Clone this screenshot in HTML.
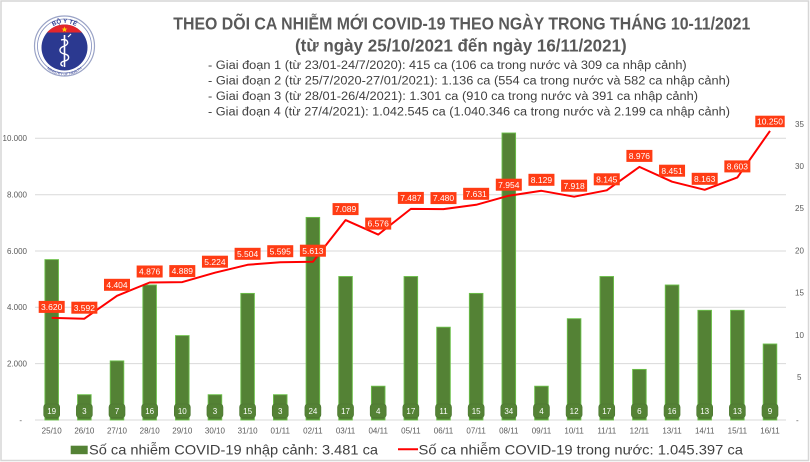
<!DOCTYPE html>
<html><head><meta charset="utf-8"><style>
html,body{margin:0;padding:0;background:#fff;}
svg{display:block;font-family:"Liberation Sans",sans-serif;}
</style></head><body>
<svg width="810" height="462" viewBox="0 0 810 462" xmlns="http://www.w3.org/2000/svg">
<rect x="0" y="0" width="810" height="462" fill="#fff"/>
<rect x="1" y="1" width="807.5" height="459.5" fill="none" stroke="#d6d6d6" stroke-width="1.5"/>

<!-- logo -->
<g>
<circle cx="64.5" cy="46" r="30" fill="#fff" stroke="#9aa3c6" stroke-width="1.2"/>
<circle cx="64.5" cy="46" r="27" fill="none" stroke="#7f8bbd" stroke-width="0.8"/>
<defs><clipPath id="dc"><circle cx="64.5" cy="47.5" r="23"/></clipPath>
<path id="arcT" d="M44,38 A21.5,21.5 0 0 1 85,38"/>
<path id="arcB" d="M40,58 A26,26 0 0 0 89,58"/></defs>
<g clip-path="url(#dc)">
<rect x="40" y="20" width="50" height="55" fill="#2b3990"/>
<rect x="40" y="20" width="50" height="12.5" fill="#e3262b"/>
</g>
<polygon points="64.5,26.5 65.3,28.6 67.4,28.6 65.7,29.9 66.3,32 64.5,30.7 62.7,32 63.3,29.9 61.6,28.6 63.7,28.6" fill="#ffd400"/>
<line x1="64.5" y1="35" x2="64.5" y2="67" stroke="#fff" stroke-width="1.6"/>
<path d="M61,40 C68,38 70,44 64.5,46 C58,48 59,53 64.5,54 C70,55 70,60 64.5,61 C60,62 60,65 63,66" fill="none" stroke="#fff" stroke-width="1.4"/>
<path d="M68,37 l3,-3" stroke="#fff" stroke-width="1.2"/>
<text font-size="6" fill="#2b3990" font-weight="bold"><textPath href="#arcT" startOffset="50%" text-anchor="middle">BỘ Y TẾ</textPath></text>
<text font-size="3.6" fill="#2b3990"><textPath href="#arcB" startOffset="50%" text-anchor="middle">MINISTRY OF HEALTH</textPath></text>
</g>

<!-- titles -->
<text x="173.3" y="29.3" font-size="17.5" font-weight="bold" fill="#595959" textLength="577" lengthAdjust="spacingAndGlyphs">THEO DÕI CA NHIỄM MỚI COVID-19 THEO NGÀY TRONG THÁNG 10-11/2021</text>
<text x="295" y="51.5" font-size="17.5" font-weight="bold" fill="#595959" textLength="331.7" lengthAdjust="spacingAndGlyphs">(từ ngày 25/10/2021 đến ngày 16/11/2021)</text>
<g font-size="11.5" fill="#404040">
<text x="208" y="69" textLength="478.7" lengthAdjust="spacingAndGlyphs">- Giai đoạn 1 (từ 23/01-24/7/2020): 415 ca (106 ca trong nước và 309 ca nhập cảnh)</text>
<text x="208" y="84.5" textLength="522" lengthAdjust="spacingAndGlyphs">- Giai đoạn 2 (từ 25/7/2020-27/01/2021): 1.136 ca (554 ca trong nước và 582 ca nhập cảnh)</text>
<text x="208" y="100" textLength="490" lengthAdjust="spacingAndGlyphs">- Giai đoạn 3 (từ 28/01-26/4/2021): 1.301 ca (910 ca trong nước và 391 ca nhập cảnh)</text>
<text x="208" y="115.7" textLength="522" lengthAdjust="spacingAndGlyphs">- Giai đoạn 4 (từ 27/4/2021): 1.042.545 ca (1.040.346 ca trong nước và 2.199 ca nhập cảnh)</text>
</g>

<!-- gridlines -->
<g stroke="#d9d9d9" stroke-width="1">
<line x1="35" y1="138.3" x2="786" y2="138.3"/>
<line x1="35" y1="194.7" x2="786" y2="194.7"/>
<line x1="35" y1="251" x2="786" y2="251"/>
<line x1="35" y1="307.3" x2="786" y2="307.3"/>
<line x1="35" y1="363.6" x2="786" y2="363.6"/>
<line x1="35" y1="420" x2="786" y2="420"/>
</g>

<!-- left axis -->
<g font-size="8" fill="#595959" text-anchor="end">
<text x="27" y="141.2">10.000</text>
<text x="27" y="197.6">8.000</text>
<text x="27" y="253.9">6.000</text>
<text x="27" y="310.2">4.000</text>
<text x="27" y="366.5">2.000</text>
<text x="22" y="422.8">-</text>
</g>
<!-- right axis -->
<g font-size="8" fill="#595959">
<text x="795" y="126.8">35</text>
<text x="795" y="169">30</text>
<text x="795" y="211.2">25</text>
<text x="795" y="253.4">20</text>
<text x="795" y="295.6">15</text>
<text x="795" y="337.8">10</text>
<text x="797" y="380">5</text>
<text x="796" y="422.8">-</text>
</g>

<!-- bars -->
<g fill="#548235" stroke="#6cc04a" stroke-width="0.9">
<rect x="44.9" y="259.6" width="13.6" height="160.4"/>
<rect x="77.55" y="394.7" width="13.6" height="25.3"/>
<rect x="110.2" y="360.9" width="13.6" height="59.1"/>
<rect x="142.85" y="285" width="13.6" height="135"/>
<rect x="175.5" y="335.6" width="13.6" height="84.4"/>
<rect x="208.15" y="394.7" width="13.6" height="25.3"/>
<rect x="240.8" y="293.4" width="13.6" height="126.6"/>
<rect x="273.45" y="394.7" width="13.6" height="25.3"/>
<rect x="306.1" y="217.4" width="13.6" height="202.6"/>
<rect x="338.75" y="276.5" width="13.6" height="143.5"/>
<rect x="371.4" y="386.2" width="13.6" height="33.8"/>
<rect x="404.05" y="276.5" width="13.6" height="143.5"/>
<rect x="436.7" y="327.2" width="13.6" height="92.8"/>
<rect x="469.35" y="293.4" width="13.6" height="126.6"/>
<rect x="502" y="133" width="13.6" height="287"/>
<rect x="534.65" y="386.2" width="13.6" height="33.8"/>
<rect x="567.3" y="318.7" width="13.6" height="101.3"/>
<rect x="599.95" y="276.5" width="13.6" height="143.5"/>
<rect x="632.6" y="369.4" width="13.6" height="50.6"/>
<rect x="665.25" y="285" width="13.6" height="135"/>
<rect x="697.9" y="310.3" width="13.6" height="109.7"/>
<rect x="730.55" y="310.3" width="13.6" height="109.7"/>
<rect x="763.2" y="344" width="13.6" height="76"/>
</g>

<!-- bar labels -->
<g fill="#548235" stroke="#4a7530" stroke-width="0.6">
<rect x="43.7" y="404" width="16" height="13.7" rx="3"/>
<rect x="76.35" y="404" width="16" height="13.7" rx="3"/>
<rect x="109" y="404" width="16" height="13.7" rx="3"/>
<rect x="141.65" y="404" width="16" height="13.7" rx="3"/>
<rect x="174.3" y="404" width="16" height="13.7" rx="3"/>
<rect x="206.95" y="404" width="16" height="13.7" rx="3"/>
<rect x="239.6" y="404" width="16" height="13.7" rx="3"/>
<rect x="272.25" y="404" width="16" height="13.7" rx="3"/>
<rect x="304.9" y="404" width="16" height="13.7" rx="3"/>
<rect x="337.55" y="404" width="16" height="13.7" rx="3"/>
<rect x="370.2" y="404" width="16" height="13.7" rx="3"/>
<rect x="402.85" y="404" width="16" height="13.7" rx="3"/>
<rect x="435.5" y="404" width="16" height="13.7" rx="3"/>
<rect x="468.15" y="404" width="16" height="13.7" rx="3"/>
<rect x="500.8" y="404" width="16" height="13.7" rx="3"/>
<rect x="533.45" y="404" width="16" height="13.7" rx="3"/>
<rect x="566.1" y="404" width="16" height="13.7" rx="3"/>
<rect x="598.75" y="404" width="16" height="13.7" rx="3"/>
<rect x="631.4" y="404" width="16" height="13.7" rx="3"/>
<rect x="664.05" y="404" width="16" height="13.7" rx="3"/>
<rect x="696.7" y="404" width="16" height="13.7" rx="3"/>
<rect x="729.35" y="404" width="16" height="13.7" rx="3"/>
<rect x="762" y="404" width="16" height="13.7" rx="3"/>
</g>
<g font-size="8" fill="#fff" text-anchor="middle">
<text x="51.7" y="413.8">19</text>
<text x="84.35" y="413.8">3</text>
<text x="117" y="413.8">7</text>
<text x="149.65" y="413.8">16</text>
<text x="182.3" y="413.8">10</text>
<text x="214.95" y="413.8">3</text>
<text x="247.6" y="413.8">15</text>
<text x="280.25" y="413.8">3</text>
<text x="312.9" y="413.8">24</text>
<text x="345.55" y="413.8">17</text>
<text x="378.2" y="413.8">4</text>
<text x="410.85" y="413.8">17</text>
<text x="443.5" y="413.8">11</text>
<text x="476.15" y="413.8">15</text>
<text x="508.8" y="413.8">34</text>
<text x="541.45" y="413.8">4</text>
<text x="574.1" y="413.8">12</text>
<text x="606.75" y="413.8">17</text>
<text x="639.4" y="413.8">6</text>
<text x="672.05" y="413.8">16</text>
<text x="704.7" y="413.8">13</text>
<text x="737.35" y="413.8">13</text>
<text x="770" y="413.8">9</text>
</g>

<!-- line -->
<polyline fill="none" stroke="#ff0000" stroke-width="2" stroke-linejoin="round" points="51.7,317.9 84.35,318.7 117,295.8 149.65,282.5 182.3,282.1 214.95,272.7 247.6,264.8 280.25,262.2 312.9,261.7 345.55,220.1 378.2,234.6 410.85,208.9 443.5,209.1 476.15,204.8 508.8,195.7 541.45,190.8 574.1,196.7 606.75,190.3 639.4,166.9 672.05,181.7 704.7,189.8 737.35,177.4 770,130.9"/>

<!-- line labels -->
<g fill="#ff3c14">
<rect x="38.7" y="300.9" width="26" height="12"/>
<rect x="71.35" y="301.7" width="26" height="12"/>
<rect x="104" y="278.8" width="26" height="12"/>
<rect x="136.65" y="265.5" width="26" height="12"/>
<rect x="169.3" y="265.1" width="26" height="12"/>
<rect x="201.95" y="255.7" width="26" height="12"/>
<rect x="234.6" y="247.8" width="26" height="12"/>
<rect x="267.25" y="245.2" width="26" height="12"/>
<rect x="299.9" y="244.7" width="26" height="12"/>
<rect x="332.55" y="203.1" width="26" height="12"/>
<rect x="365.2" y="217.6" width="26" height="12"/>
<rect x="397.85" y="191.9" width="26" height="12"/>
<rect x="430.5" y="192.1" width="26" height="12"/>
<rect x="463.15" y="187.8" width="26" height="12"/>
<rect x="495.8" y="178.7" width="26" height="12"/>
<rect x="528.45" y="173.8" width="26" height="12"/>
<rect x="561.1" y="179.7" width="26" height="12"/>
<rect x="593.75" y="173.3" width="26" height="12"/>
<rect x="626.4" y="149.9" width="26" height="12"/>
<rect x="659.05" y="164.7" width="26" height="12"/>
<rect x="691.7" y="172.8" width="26" height="12"/>
<rect x="724.35" y="160.4" width="26" height="12"/>
<rect x="755.3" y="115.7" width="29.4" height="11.5"/>
</g>
<g font-size="8.5" fill="#fff" text-anchor="middle">
<text x="51.7" y="310">3.620</text>
<text x="84.35" y="310.8">3.592</text>
<text x="117" y="287.9">4.404</text>
<text x="149.65" y="274.6">4.876</text>
<text x="182.3" y="274.2">4.889</text>
<text x="214.95" y="264.8">5.224</text>
<text x="247.6" y="256.9">5.504</text>
<text x="280.25" y="254.3">5.595</text>
<text x="312.9" y="253.8">5.613</text>
<text x="345.55" y="212.2">7.089</text>
<text x="378.2" y="226.7">6.576</text>
<text x="410.85" y="201">7.487</text>
<text x="443.5" y="201.2">7.480</text>
<text x="476.15" y="196.9">7.631</text>
<text x="508.8" y="187.8">7.954</text>
<text x="541.45" y="182.9">8.129</text>
<text x="574.1" y="188.8">7.918</text>
<text x="606.75" y="182.4">8.145</text>
<text x="639.4" y="159">8.976</text>
<text x="672.05" y="173.8">8.451</text>
<text x="704.7" y="181.9">8.163</text>
<text x="737.35" y="169.5">8.603</text>
<text x="770" y="124.6">10.250</text>
</g>

<!-- x labels -->
<g font-size="8" fill="#595959" text-anchor="middle">
<text x="51.7" y="433.5">25/10</text>
<text x="84.35" y="433.5">26/10</text>
<text x="117" y="433.5">27/10</text>
<text x="149.65" y="433.5">28/10</text>
<text x="182.3" y="433.5">29/10</text>
<text x="214.95" y="433.5">30/10</text>
<text x="247.6" y="433.5">31/10</text>
<text x="280.25" y="433.5">01/11</text>
<text x="312.9" y="433.5">02/11</text>
<text x="345.55" y="433.5">03/11</text>
<text x="378.2" y="433.5">04/11</text>
<text x="410.85" y="433.5">05/11</text>
<text x="443.5" y="433.5">06/11</text>
<text x="476.15" y="433.5">07/11</text>
<text x="508.8" y="433.5">08/11</text>
<text x="541.45" y="433.5">09/11</text>
<text x="574.1" y="433.5">10/11</text>
<text x="606.75" y="433.5">11/11</text>
<text x="639.4" y="433.5">12/11</text>
<text x="672.05" y="433.5">13/11</text>
<text x="704.7" y="433.5">14/11</text>
<text x="737.35" y="433.5">15/11</text>
<text x="770" y="433.5">16/11</text>
</g>

<!-- legend -->
<rect x="70.7" y="445.7" width="17" height="8.5" fill="#548235"/>
<text x="89" y="454.3" font-size="14" fill="#404040" textLength="289" lengthAdjust="spacingAndGlyphs">Số ca nhiễm COVID-19 nhập cảnh: 3.481 ca</text>
<line x1="398" y1="449.3" x2="418" y2="449.3" stroke="#ff0000" stroke-width="2"/>
<text x="418.5" y="454.3" font-size="14" fill="#404040" textLength="324.5" lengthAdjust="spacingAndGlyphs">Số ca nhiễm COVID-19 trong nước: 1.045.397 ca</text>
</svg>
</body></html>
